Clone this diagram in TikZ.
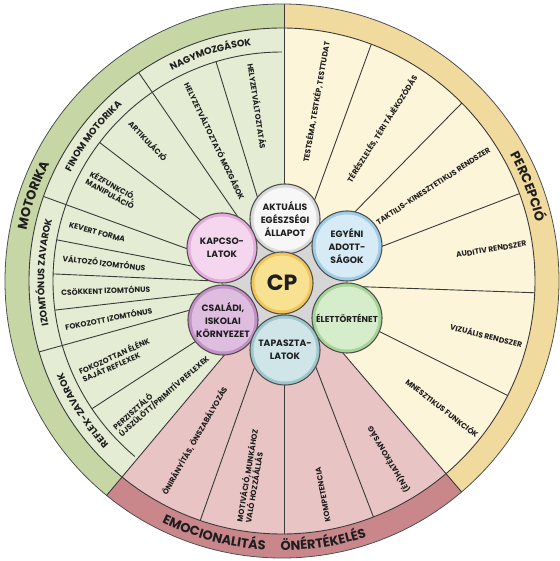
\documentclass[tikz,border=0pt]{standalone}
\usepackage{fontspec}
\setmainfont{Poppins}
\usetikzlibrary{calc,decorations.text}
\definecolor{motin}{HTML}{E4ECD3}
\definecolor{motband}{HTML}{C6D7A5}
\definecolor{perin}{HTML}{FDF5DA}
\definecolor{perband}{HTML}{F1DA9E}
\definecolor{emoin}{HTML}{E9C4C5}
\definecolor{emoband}{HTML}{C9878C}
\definecolor{sepc}{HTML}{3A3A3A}
\definecolor{txt}{HTML}{1E1E1E}
\definecolor{hubline}{HTML}{505050}
\definecolor{hubgray}{HTML}{D6D6D6}
\definecolor{akt}{HTML}{F7F7F7}\definecolor{aktrim}{HTML}{DADADA}
\definecolor{egy}{HTML}{D6EBF6}\definecolor{egyrim}{HTML}{9FCDE8}
\definecolor{elt}{HTML}{D5EDCB}\definecolor{eltrim}{HTML}{A6D598}
\definecolor{tap}{HTML}{D0E5E7}\definecolor{taprim}{HTML}{9DC7CC}
\definecolor{csa}{HTML}{DFBDE1}\definecolor{csarim}{HTML}{C290C6}
\definecolor{kap}{HTML}{F4D6EF}\definecolor{kaprim}{HTML}{E5ABDC}
\definecolor{cpc}{HTML}{F8E191}\definecolor{cprim}{HTML}{F0C65A}
\newcommand{\lblfont}{\fontsize{7.6}{8.8}\selectfont\bfseries}
\newcommand{\hubfont}{\fontsize{9.2}{13}\selectfont\bfseries}
\newcommand{\subfont}{\fontsize{9.5}{10}\selectfont\bfseries}
\newcommand{\catfont}{\fontsize{13}{13}\selectfont\bfseries}
\newcommand{\cpfont}{\fontsize{22}{22}\selectfont\bfseries}
\newcommand{\sectorfill}[3]{\fill[#1] (H) -- ($(H)+(#2:400)$) -- ($(H)+({(#2+#3)/2}:400)$) -- ($(H)+(#3:400)$) -- cycle;}
\newcommand{\rayline}[2]{\begin{scope}\clip (O) circle (#2);\draw[sepline] ($(H)+(#1:50)$) -- ($(H)+(#1:320)$);\end{scope}}
\tikzset{
  sepline/.style={draw=sepc, line width=0.9pt},
  hubc/.style n args={3}{circle, minimum size=#3, inner sep=0pt, fill=#2, draw=hubline, line width=1.1pt,
     path picture={\fill[#1] (path picture bounding box.center) circle ({#3/2-3.5pt});},
     align=center, font=\hubfont, text=txt},
  lbl/.style={font=\lblfont, inner sep=1pt, text=txt, align=left},
}
\begin{document}
\begin{tikzpicture}[x=1pt,y=1pt]
\useasboundingbox (-282,-280) rectangle (277,281);
\coordinate (O) at (0,0);
\coordinate (H) at (2,-3);
% bands
\begin{scope}
  \clip (O) circle (277);
  \sectorfill{perband}{90}{-49.5}
  \sectorfill{emoband}{-49.5}{-130}
  \sectorfill{motband}{-130}{-270}
\end{scope}
\begin{scope}
  \clip (O) circle (253);
  \sectorfill{perin}{90}{-49.5}
  \sectorfill{emoin}{-49.5}{-130}
  \sectorfill{motin}{-130}{-270}
\end{scope}
% rings
\draw[draw=hubline, line width=0.8pt] (O) circle (277);
\draw[sepline] (O) circle (253);
\draw[sepline] (90:229) arc[start angle=90, end angle=230, radius=229];
% boundaries through the band
\rayline{90}{277}
\rayline{-49.5}{277}
\rayline{-130}{277}
% to band
\foreach \a in {70,45.5,21,-2,-26.5,-69,-90,-109.5,124.5,160,195.5} {\rayline{\a}{253}}
% to sub ring
\foreach \a in {107,142.5,169,177.5,186.5,213} {\rayline{\a}{229}}
% hub
\coordinate (cAKT) at (3,62);
\coordinate (cEGY) at (65,35);
\coordinate (cELT) at (65,-37);
\coordinate (cTAP) at (3,-69);
\coordinate (cCSA) at (-59,-39);
\coordinate (cKAP) at (-60,33);
\coordinate (cCP) at (0,-2);
\fill[hubgray] (cAKT) -- (cEGY) -- (cELT) -- (cTAP) -- (cCSA) -- (cKAP) -- cycle;
\node[hubc={akt}{aktrim}{70pt}] (akt) at (cAKT) {AKTUÁLIS\\EGÉSZSÉGI\\ÁLLAPOT};
\node[hubc={egy}{egyrim}{70pt}] (egy) at (cEGY) {EGYÉNI\\ADOTT-\\SÁGOK};
\node[hubc={kap}{kaprim}{70pt}] (kap) at (cKAP) {KAPCSO-\\LATOK};
\node[hubc={elt}{eltrim}{70pt}, font=\fontsize{8.6}{10}\selectfont\bfseries] (elt) at (cELT) {ÉLETTÖRTÉNET};
\node[hubc={csa}{csarim}{70pt}] (csa) at (cCSA) {CSALÁDI,\\ISKOLAI\\KÖRNYEZET};
\node[hubc={tap}{taprim}{70pt}] (tap) at (cTAP) {TAPASZTA-\\LATOK};
\node[hubc={cpc}{cprim}{62pt}, font=\cpfont] (cp) at (cCP) {CP};
% perception labels
\node[lbl, rotate=80, anchor=east] (p1) at ($(H)+(80:247)$) {TESTSÉMA, TESTKÉP, TESTTUDAT};
\node[lbl, rotate=57.75, anchor=east] (p2) at ($(H)+(57.75:247)$) {TÉRÉSZLELÉS, TÉRI TÁJÉKOZÓDÁS};
\node[lbl, rotate=33.25, anchor=east] (p3) at ($(H)+(33.25:247)$) {TAKTILIS-KINESZTETIKUS RENDSZER};
\node[lbl, rotate=9.5, anchor=east] (p4) at ($(H)+(9.5:247)$) {AUDITIV RENDSZER};
\node[lbl, rotate=-14.25, anchor=east] (p5) at ($(H)+(-14.25:247)$) {VIZUÁLIS RENDSZER};
\node[lbl, rotate=-38, anchor=east] (p6) at ($(H)+(-38:247)$) {MNESZTIKUS FUNKCIÓK};
% emotion labels
\node[lbl, rotate=120.75, anchor=west] (e1) at ($(H)+(-59.25:243)$) {(ÉN)HATÉKONYSÁG};
\node[lbl, rotate=100.5, anchor=west] (e2) at ($(H)+(-79.5:243)$) {KOMPETENCIA};
\node[lbl, rotate=80.25, anchor=west] (e3) at ($(H)+(-99.75:243)$) {MOTIVÁCIÓ, MUNKÁHOZ\\VALÓ HOZZÁÁLLÁS};
\node[lbl, rotate=60.25, anchor=west] (e4) at ($(H)+(-119.75:243)$) {ÖNIRÁNYÍTÁS, ÖNSZABÁLYOZÁS};
% motorika labels
\node[lbl, rotate=-81.5, anchor=west] (m1) at ($(H)+(98.5:224)$) {HELYZETVÁLTOZTATÁS};
\node[lbl, rotate=-64.25, anchor=west] (m2) at ($(H)+(115.75:224)$) {HELYZETVÁLTOZTATÓ MOZGÁSOK};
\node[lbl, rotate=-46.5, anchor=west] (m3) at ($(H)+(133.5:224)$) {ARTIKULÁCIÓ};
\node[lbl, rotate=-28.75, anchor=west] (m4) at ($(H)+(151.25:224)$) {KÉZFUNKCIÓ,\\MANIPULÁCIÓ};
\node[lbl, rotate=-15.5, anchor=west] (m5) at ($(H)+(164.5:224)$) {KEVERT FORMA};
\node[lbl, rotate=-6.75, anchor=west] (m6) at ($(H)+(173.25:224)$) {VÁLTOZÓ IZOMTÓNUS};
\node[lbl, rotate=2, anchor=west] (m7) at ($(H)+(182:224)$) {CSÖKKENT IZOMTÓNUS};
\node[lbl, rotate=11, anchor=west] (m8) at ($(H)+(191:224)$) {FOKOZOTT IZOMTÓNUS};
\node[lbl, rotate=24.25, anchor=west] (m9) at ($(H)+(204.25:224)$) {FOKOZOTTAN ÉLÉNK\\SAJÁT REFLEXEK};
\node[lbl, rotate=41.5, anchor=west] (m10) at ($(H)+(221.5:224)$) {PERZISZTÁLÓ\\ÚJSZÜLÖTT/PRIMITÍV REFLEXEK};
% curved category labels
\path[decorate, decoration={text along path, text={|\catfont\color{txt}|MOTORIKA}, text align=center}]
  (201:260.5) arc[start angle=201, end angle=121, radius=260.5];
\path[decorate, decoration={text along path, text={|\catfont\color{txt}|PERCEPCIÓ}, text align=center}]
  (61:260.5) arc[start angle=61, end angle=-19, radius=260.5];
\path[decorate, decoration={text along path, text={|\catfont\color{txt}|EMOCIONALITÁS}, text align=center}]
  (-145:269.5) arc[start angle=-145, end angle=-65, radius=269.5];
\path[decorate, decoration={text along path, text={|\catfont\color{txt}|ÖNÉRTÉKELÉS}, text align=center}]
  (-121:269.5) arc[start angle=-121, end angle=-41, radius=269.5];
% sub-ring labels
\path[decorate, decoration={text along path, text={|\subfont\color{txt}|NAGYMOZGÁSOK}, text align=center}]
  (147.5:237.7) arc[start angle=147.5, end angle=67.5, radius=237.7];
\path[decorate, decoration={text along path, text={|\subfont\color{txt}|FINOM MOTORIKA}, text align=center}]
  (182.5:237.7) arc[start angle=182.5, end angle=102.5, radius=237.7];
\path[decorate, decoration={text along path, text={|\subfont\color{txt}|IZOMTÓNUS ZAVAROK}, text align=center}]
  (218:237.7) arc[start angle=218, end angle=138, radius=237.7];
\path[decorate, decoration={text along path, text={|\subfont\color{txt}|REFLEX-ZAVAROK}, text align=center}]
  (253:237.7) arc[start angle=253, end angle=173, radius=237.7];
\end{tikzpicture}
\end{document}
